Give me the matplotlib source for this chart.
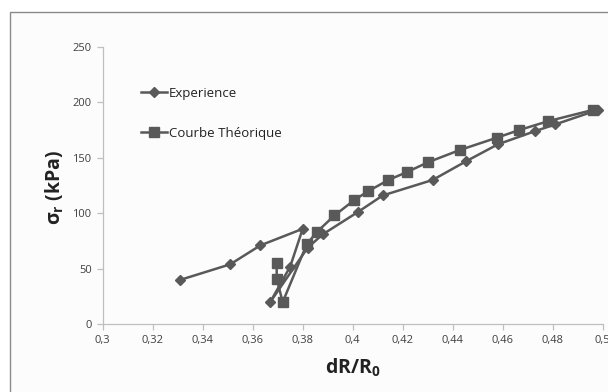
import matplotlib
matplotlib.use("Agg")
import matplotlib.pyplot as plt
from matplotlib.patches import Rectangle

plt.rcParams['font.family'] = ['Open Sans', 'DejaVu Sans']
plt.rcParams['mathtext.fontset'] = 'custom'
plt.rcParams['mathtext.rm'] = 'Open Sans:bold'
plt.rcParams['mathtext.it'] = 'Open Sans:bold'
plt.rcParams['mathtext.bf'] = 'Open Sans:bold'

# Experience (diamonds)
exp_x = [0.331, 0.351, 0.363, 0.380, 0.375, 0.367, 0.382, 0.388, 0.402, 0.412,
         0.432, 0.4455, 0.458, 0.473, 0.481, 0.498]
exp_y = [40, 54, 71, 86, 52, 20, 69, 81, 101, 116, 130, 147, 162, 174, 180, 193]

# Courbe Théorique (squares)
th_x = [0.3696, 0.3696, 0.372, 0.3816, 0.3856, 0.3927, 0.4007, 0.4063, 0.4143,
        0.4216, 0.4302, 0.4429, 0.4576, 0.4667, 0.4783, 0.496]
th_y = [55, 41, 20, 72, 83, 98, 112, 120, 130, 137, 146, 157, 168, 175, 183, 193]

x_ticks = [0.30, 0.32, 0.34, 0.36, 0.38, 0.40, 0.42, 0.44, 0.46, 0.48, 0.50]
x_tick_labels = ['0,3', '0,32', '0,34', '0,36', '0,38', '0,4', '0,42', '0,44', '0,46', '0,48', '0,5']
y_ticks = [0, 50, 100, 150, 200, 250]

W, H = 608, 392
fig = plt.figure(figsize=(W / 100, H / 100), dpi=100)
fig.patch.set_facecolor('white')
fig.patches.append(Rectangle((10 / W, -0.05), 1.1, (H - 12) / H + 0.05,
                             transform=fig.transFigure, facecolor='#fcfcfc',
                             edgecolor='#8a8a8a', linewidth=1.0, zorder=-10))

ax = fig.add_axes([102.7 / W, (H - 324.3) / H, 500 / W, (324.3 - 46.7) / H])
ax.set_facecolor('none')

col = '#595959'
ax.plot(exp_x, exp_y, color=col, lw=1.8, marker='D', ms=5, mec=col, mfc=col,
        label='Experience', zorder=3)
ax.plot(th_x, th_y, color=col, lw=1.8, marker='s', ms=6.5, mec=col, mfc=col,
        label='Courbe Théorique', zorder=2)

ax.set_xlim(0.3, 0.5)
ax.set_ylim(0, 250)
ax.set_xticks(x_ticks)
ax.set_xticklabels(x_tick_labels)
ax.set_yticks(y_ticks)
for s in ['top', 'right']:
    ax.spines[s].set_visible(False)
for s in ['left', 'bottom']:
    ax.spines[s].set_color('#bfbfbf')
    ax.spines[s].set_linewidth(0.9)
ax.tick_params(direction='out', length=4, width=0.9, color='#bfbfbf',
               labelsize=8, labelcolor='#404040', pad=4)

fig.text(353 / W, (H - 368) / H, 'dR/R$_0$', ha='center', va='center',
         fontsize=14, fontweight='bold', color='#222222')
fig.text(55 / W, (H - 187) / H, 'σ$_r$ (kPa)', ha='center', va='center',
         rotation=90, fontsize=14, fontweight='bold', color='#222222')

ax.legend(loc='upper left', bbox_to_anchor=(134 / W, (H - 80) / H),
          bbox_transform=fig.transFigure, frameon=False, fontsize=9.5,
          handlelength=2.0, handletextpad=0.12, labelspacing=2.05,
          borderpad=0, labelcolor='#222222')

plt.savefig('out.png', dpi=100)
